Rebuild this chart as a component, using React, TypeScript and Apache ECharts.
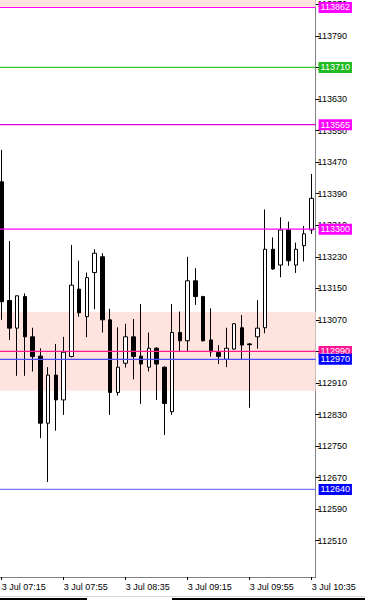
import React, { useEffect, useRef } from "react";
import * as echarts from "echarts";

const times = [
  "3 Jul 07:15", "3 Jul 07:20", "3 Jul 07:25", "3 Jul 07:30", "3 Jul 07:35", "3 Jul 07:40", "3 Jul 07:45", "3 Jul 07:50", "3 Jul 07:55",
  "3 Jul 08:00", "3 Jul 08:05", "3 Jul 08:10", "3 Jul 08:15", "3 Jul 08:20", "3 Jul 08:25", "3 Jul 08:30", "3 Jul 08:35", "3 Jul 08:40",
  "3 Jul 08:45", "3 Jul 08:50", "3 Jul 08:55", "3 Jul 09:00", "3 Jul 09:05", "3 Jul 09:10", "3 Jul 09:15", "3 Jul 09:20", "3 Jul 09:25",
  "3 Jul 09:30", "3 Jul 09:35", "3 Jul 09:40", "3 Jul 09:45", "3 Jul 09:50", "3 Jul 09:55", "3 Jul 10:00", "3 Jul 10:05", "3 Jul 10:10",
  "3 Jul 10:15", "3 Jul 10:20", "3 Jul 10:25", "3 Jul 10:30", "3 Jul 10:35",
];

const opens = [
  113420, 113119, 113049, 113129, 113027, 112978, 112808, 112930, 112867, 112977,
  113148, 113078, 113190, 113230, 113070, 112886, 112960, 113027, 112978, 112950,
  112998, 112950, 112837, 113038, 113017, 113169, 113129, 113019, 112987, 112970,
  112996, 113050, 113009, 113027, 113050, 113249, 113209, 113298, 113209, 113258,
  113298,
];
const highs = [
  113501, 113270, 113131, 113137, 113050, 112998, 112950, 113009, 113027, 113260,
  113220, 113190, 113249, 113239, 113098, 113051, 113060, 113072, 113110, 113038,
  113001, 112952, 113110, 113091, 113230, 113201, 113131, 113099, 113006, 113050,
  113062, 113082, 113011, 113120, 113350, 113279, 113330, 113319, 113266, 113308,
  113440,
];
const lows = [
  113070, 113019, 112928, 112928, 112939, 112770, 112659, 112789, 112829, 112975,
  113078, 113026, 113097, 113038, 112829, 112878, 112949, 112919, 112857, 112939,
  112867, 112778, 112829, 112989, 112989, 113108, 113015, 112977, 112958, 112950,
  112994, 112968, 112847, 112997, 113036, 113197, 113178, 113207, 113189, 113218,
  113288,
];
const closes = [
  113116, 113049, 113131, 113027, 112977, 112808, 112930, 112867, 112988, 113158,
  113088, 113177, 113239, 113070, 112886, 112950, 113027, 112977, 112958, 112998,
  112958, 112858, 113038, 113017, 113169, 113129, 113017, 112989, 112977, 112998,
  113060, 113006, 113007, 113049, 113249, 113199, 113298, 113220, 113249, 113288,
  113378,
];

const yTicks = [
  112510, 112590, 112670, 112750, 112830, 112910, 112990, 113070, 113150,
  113230, 113310, 113390, 113470, 113550, 113630, 113710, 113790, 113870,
];
const xLabelIndexes = [0, 8, 16, 24, 32, 40];

const levels = [113862, 113710, 113565, 113300, 112990, 112970, 112640];
const zoneLows = [112890, 113862];
const zoneHighs = [113090, 113881];

const Y_MIN = 112418;
const Y_MAX = 113881;

const levelLineColors = ["#ff00ff", "#33cc33", "#e000e0", "#ff00ff", "#ff1a8c", "#4b4bff", "#7878ff"];
const levelTagColors = ["#ff00ff", "#22bb22", "#ff00ff", "#ff00ff", "#ff1493", "#0000ff", "#0000ff"];

const FONT = "Liberation Sans";
// half-thickness of a level line, in price units (~0.6px)
const HALF = 1.5;

export default function App() {
  const ref = useRef<HTMLDivElement>(null);

  useEffect(() => {
    if (!ref.current) return;
    const chart = echarts.init(ref.current, null, { renderer: "svg" });
    const showIdx = (i: number) => xLabelIndexes.includes(i);

    const levelSeries = levels.map((v, i) => ({
      type: "line",
      name: "level" + i,
      data: [],
      silent: true,
      markArea: {
        silent: true,
        z: 6,
        itemStyle: { color: levelLineColors[i], borderWidth: 0 },
        label: {
          show: true,
          position: "right",
          distance: 3,
          color: "#ffffff",
          fontSize: 9,
          fontFamily: FONT,
          padding: [1, 2, 1, 2],
          backgroundColor: levelTagColors[i],
          formatter: () => String(v),
        },
        data: [[{ yAxis: v - HALF }, { yAxis: v + HALF }]],
      },
    }));

    chart.setOption({
      animation: false,
      backgroundColor: "#ffffff",
      textStyle: { fontFamily: FONT },
      grid: { left: -2.2, top: 0, width: 317.8, height: 577, containLabel: false, outerBoundsMode: "none" },
      xAxis: {
        type: "category",
        data: times,
        boundaryGap: true,
        axisLine: { show: true, lineStyle: { color: "#808080", width: 1 } },
        axisTick: {
          show: true,
          alignWithLabel: true,
          interval: (i: number) => showIdx(i),
          length: 3,
          lineStyle: { color: "#000" },
        },
        axisLabel: {
          interval: (i: number) => showIdx(i),
          align: "left",
          margin: 5,
          fontSize: 9,
          fontFamily: FONT,
          color: "#000",
          hideOverlap: false,
        },
        splitLine: { show: false },
      },
      yAxis: {
        type: "value",
        position: "right",
        min: Y_MIN,
        max: Y_MAX,
        axisLine: { show: true, lineStyle: { color: "#808080", width: 1 } },
        axisTick: { show: true, length: 4, customValues: yTicks, lineStyle: { color: "#000" } },
        axisLabel: {
          customValues: yTicks,
          margin: 2,
          fontSize: 9,
          fontFamily: FONT,
          color: "#000",
          formatter: (v: number) => String(v),
        },
        splitLine: { show: false },
      },
      series: [
        {
          type: "candlestick",
          data: opens.map((o, i) => [o, closes[i], lows[i], highs[i]]),
          barWidth: 4,
          itemStyle: {
            color: "#ffffff",
            color0: "#000000",
            borderColor: "#000000",
            borderColor0: "#000000",
            borderWidth: 1,
          },
          markArea: {
            silent: true,
            label: { show: false },
            itemStyle: { color: "#ffe3df" },
            data: zoneLows.map((lo, i) => [{ yAxis: lo }, { yAxis: zoneHighs[i] }]),
          },
        },
        ...levelSeries,
      ],
      graphic: [
        { type: "rect", left: 0, top: 596, shape: { width: 365, height: 1 }, style: { fill: "#d8d8d8" }, silent: true },
        { type: "rect", left: 0, top: 598, shape: { width: 87, height: 2 }, style: { fill: "#000" }, silent: true },
        { type: "rect", left: 172, top: 598, shape: { width: 193, height: 2 }, style: { fill: "#000" }, silent: true },
      ],
    });
    return () => chart.dispose();
  }, []);

  return (
    <div
      ref={ref}
      style={{ position: "fixed", left: 0, top: 0, width: 365, height: 600, background: "#fff" }}
    />
  );
}
